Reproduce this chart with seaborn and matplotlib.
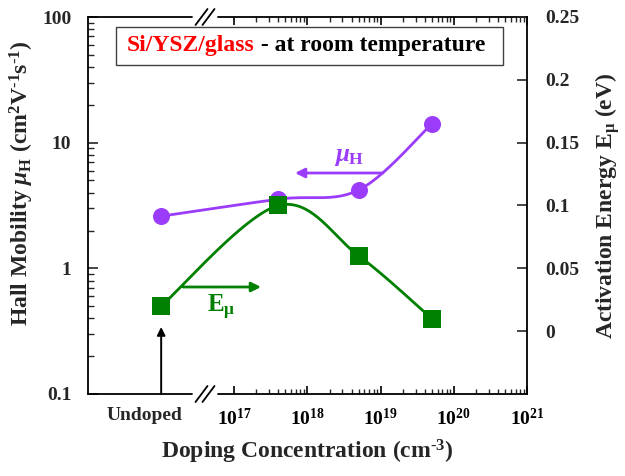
import numpy as np
import pandas as pd
import matplotlib
matplotlib.use("Agg")
import matplotlib.pyplot as plt
from matplotlib.patches import Rectangle
from matplotlib.ticker import NullFormatter
import seaborn as sns

# ---------------- data ----------------
sample_labels = ["Undoped", "4e17", "5e18", "5e19"]
undoped_pos = 1e16                       # where the undoped sample sits on the broken axis
doping = [4e17, 5e18, 5e19]              # cm^-3
mobility = [2.6, 3.55, 4.2, 14.1]        # cm^2 V^-1 s^-1 (left axis)
act_energy = [0.02, 0.10, 0.06, 0.01]    # eV (right axis)
x_major = [1e17, 1e18, 1e19, 1e20, 1e21]
x_major_labels = ["$10^{17}$", "$10^{18}$", "$10^{19}$", "$10^{20}$", "$10^{21}$"]
y_left_ticks = [0.1, 1, 10, 100]
y_left_labels = ["0.1", "1", "10", "100"]
y_right_ticks = [0, 0.05, 0.1, 0.15, 0.2, 0.25]
y_right_labels = ["0", "0.05", "0.1", "0.15", "0.2", "0.25"]

purple = "#9B3CFA"
green = "#008000"
SERIF = ["Liberation Serif", "DejaVu Serif"]

sns.set_theme(style="white")
plt.rcParams.update({
    "font.family": SERIF,
    "font.weight": "bold",
    "mathtext.fontset": "custom",
    "mathtext.rm": "Liberation Serif:bold",
    "mathtext.bf": "Liberation Serif:bold",
    "mathtext.it": "Liberation Serif:italic:bold",
    "mathtext.default": "rm",
})

df = pd.DataFrame({
    "sample": sample_labels,
    "x": [undoped_pos] + doping,
    "mu": mobility,
    "E": act_energy,
})

fig = plt.figure(figsize=(6.25, 4.76), dpi=100)
W, H = 439.0, 377.0
ax = fig.add_axes([88 / 625, 1 - 394 / 476, W / 625, H / 476])
ax.set_facecolor("white")
ax.set_xscale("log")
ax.set_yscale("log")
ax.set_xlim(1e15, 1e21)
ax.set_ylim(0.1, 100)
ax2 = ax.twinx()
ax2.set_ylim(-0.05, 0.25)


def smooth(trans, xs, ys, n=60):
    P = trans.transform(np.column_stack([xs, ys]))
    out = []
    for i in range(len(P) - 1):
        p0 = P[i - 1] if i > 0 else P[i]
        p1, p2 = P[i], P[i + 1]
        p3 = P[i + 2] if i + 2 < len(P) else P[i + 1]
        c1 = p1 + (p2 - p0) / 6.0
        c2 = p2 - (p3 - p1) / 6.0
        t = np.linspace(0, 1, n)[:, None]
        B = (1 - t) ** 3 * p1 + 3 * (1 - t) ** 2 * t * c1 + 3 * (1 - t) * t ** 2 * c2 + t ** 3 * p2
        out.append(B if i == 0 else B[1:])
    C = trans.inverted().transform(np.vstack(out))
    return C[:, 0], C[:, 1]


mx, my = smooth(ax.transData, df["x"], df["mu"])
sns.lineplot(x=mx, y=my, sort=False, estimator=None, ax=ax, color=purple, lw=2)
sns.scatterplot(data=df, x="x", y="mu", ax=ax, color=purple, s=150, marker="o",
                edgecolor=purple, linewidth=0, zorder=5)

ex, ey = smooth(ax2.transData, df["x"], df["E"])
sns.lineplot(x=ex, y=ey, sort=False, estimator=None, ax=ax2, color=green, lw=2)
sns.scatterplot(data=df, x="x", y="E", ax=ax2, color=green, s=150, marker="s",
                edgecolor=green, linewidth=0, zorder=5)

ax.set_xlim(1e15, 1e21)
ax.set_ylim(0.1, 100)
ax2.set_ylim(-0.05, 0.25)

# ---------------- ticks ----------------
ax.set_xticks(x_major)
ax.set_xticklabels(x_major_labels)
minor = [m * 10.0 ** k for k in range(17, 21) for m in range(2, 10)]
ax.set_xticks(minor, minor=True)
ax.xaxis.set_minor_formatter(NullFormatter())
ax.tick_params(axis="x", which="major", direction="in", length=6, width=1.2,
               top=True, bottom=True, labelsize=14, pad=10, colors="black")
ax.tick_params(axis="x", which="minor", direction="in", length=3.5, width=1.0,
               top=True, bottom=True)
ax.annotate(sample_labels[0], xy=(undoped_pos, 0), xycoords=("data", "axes fraction"),
            xytext=(-17, -13), textcoords="offset pixels", ha="center", va="top",
            fontsize=14, fontweight="bold", family=SERIF, annotation_clip=False)

ax.set_yticks(y_left_ticks)
ax.set_yticklabels(y_left_labels)
ax.tick_params(axis="y", which="major", direction="in", length=7, width=1.2,
               left=True, right=False, labelsize=14, pad=12)
ax.tick_params(axis="y", which="minor", direction="in", length=4, width=1.0,
               left=True, right=False)

ax2.set_yticks(y_right_ticks)
ax2.set_yticklabels(y_right_labels)
ax2.tick_params(axis="y", which="major", direction="in", length=7, width=1.2,
                right=True, left=False, labelsize=14, pad=13)
ax2.set_xlabel("")

# ---------------- spines with axis break ----------------
for s in ["top", "bottom"]:
    ax.spines[s].set_visible(False)
    ax2.spines[s].set_visible(False)
ax2.spines["left"].set_visible(False)
ax.spines["right"].set_visible(False)
ax.spines["left"].set_color("black")
ax.spines["left"].set_linewidth(1.3)
ax2.spines["right"].set_color("black")
ax2.spines["right"].set_linewidth(1.3)

g0, g1 = (192 - 88) / W, (218 - 88) / W
gc = (g0 + g1) / 2
for yy in (0, 1):
    ax.plot([0, g0], [yy, yy], transform=ax.transAxes, color="black", lw=1.3, clip_on=False)
    ax.plot([g1, 1], [yy, yy], transform=ax.transAxes, color="black", lw=1.3, clip_on=False)
    for off in (-3.5, 3.5):
        ax.plot([gc + (off - 6) / W, gc + (off + 6) / W], [yy - 8 / H, yy + 8 / H],
                transform=ax.transAxes, color="black", lw=1.3, clip_on=False)

# ---------------- labels ----------------
ax.set_xlabel("Doping Concentration (cm$^{\\text{-}3}$)", fontsize=17, fontweight="bold",
              family=SERIF)
ax.xaxis.set_label_coords(0.5, -(466 - 394) / H)
ax.xaxis.label.set_va("bottom")
ax.set_ylabel("Hall Mobility $\\mathit{\\mu}_{\\mathrm{H}}$ (cm$^{2}$V$^{\\text{-}1}$s$^{\\text{-}1}$)",
              fontsize=17, fontweight="bold", family=SERIF)
ax.yaxis.set_label_coords(-(88 - 36) / W, (394 - 183) / H)
ax2.set_ylabel("Activation Energy E$_{\\mu}$ (eV)", fontsize=17, fontweight="bold",
               family=SERIF, labelpad=10, rotation=90)

# title box
ax.add_patch(Rectangle(((116 - 88) / W, (394 - 65) / H), (503 - 116) / W, 38 / H,
                       transform=ax.transAxes, facecolor="white", edgecolor="#404040",
                       lw=1.0, zorder=6, clip_on=False))
t1 = ax.text((127 - 88) / W, (394 - 46) / H, "Si/YSZ/glass", transform=ax.transAxes,
             color="red", fontsize=17, fontweight="bold", family=SERIF,
             va="center", ha="left", zorder=7)
ax.annotate(" - at room temperature", xy=(1, 0), xycoords=t1, va="bottom", ha="left",
            color="black", fontsize=17, fontweight="bold", family=SERIF, zorder=7)

# arrows and series labels
ax.annotate("", xy=((295 - 88) / W, (394 - 173) / H), xytext=((383 - 88) / W, (394 - 173) / H),
            xycoords="axes fraction", textcoords="axes fraction",
            arrowprops=dict(arrowstyle="-|>", color=purple, lw=2, mutation_scale=14,
                            shrinkA=0, shrinkB=0))
ax.text((349 - 88) / W, (394 - 157) / H, "$\\mathit{\\mu}_{\\mathrm{H}}$", transform=ax.transAxes,
        color=purple, fontsize=18, ha="center", va="center")

ax.annotate("", xy=((261 - 88) / W, (394 - 287) / H), xytext=((183 - 88) / W, (394 - 287) / H),
            xycoords="axes fraction", textcoords="axes fraction",
            arrowprops=dict(arrowstyle="-|>", color=green, lw=2, mutation_scale=14,
                            shrinkA=0, shrinkB=0))
ax.text((221 - 88) / W, (394 - 307) / H, "E$_{\\mu}$", transform=ax.transAxes,
        color=green, fontsize=18, ha="center", va="center")

ax.annotate("", xy=(undoped_pos, (394 - 327) / H), xytext=(undoped_pos, 0),
            xycoords=("data", "axes fraction"), textcoords=("data", "axes fraction"),
            arrowprops=dict(arrowstyle="-|>", color="black", lw=1.4, mutation_scale=12,
                            shrinkA=0, shrinkB=0))

fig.savefig("out.png", dpi=100, facecolor="white")
